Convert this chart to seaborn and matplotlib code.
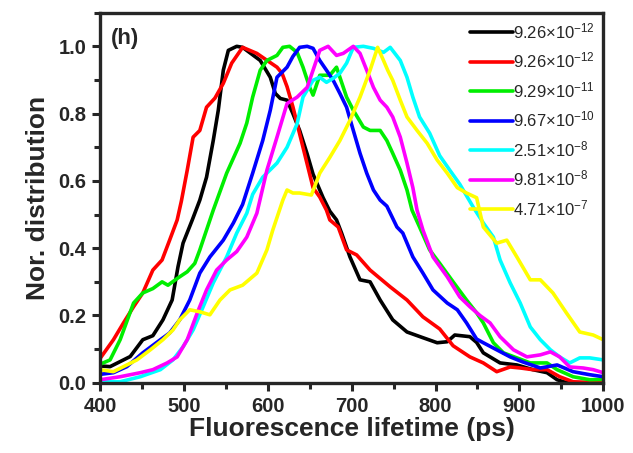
import pandas as pd
import numpy as np
import matplotlib
matplotlib.use('Agg')
import matplotlib.pyplot as plt
import seaborn as sns
from matplotlib.ticker import MultipleLocator

# ---- data ----
labels = ['9.26$\\times$10$^{-12}$', '9.26$\\times$10$^{-12}$', '9.29$\\times$10$^{-11}$',
          '9.67$\\times$10$^{-10}$', '2.51$\\times$10$^{-8}$', '9.81$\\times$10$^{-8}$',
          '4.71$\\times$10$^{-7}$']
colors = ['#000000', '#FF0000', '#00EE00', '#0000FF', '#00FFFF', '#FF00FF', '#FFFF00']

x_black = [400, 412, 436, 451, 463, 475, 486, 493, 499, 510, 519, 527, 535, 541, 547, 553, 563, 570,
           591, 603, 609, 615, 623, 630, 638, 647, 654, 666, 674, 682, 688, 698, 710, 722, 734, 749,
           766, 785, 802, 814, 823, 841, 849, 857, 877, 897, 916, 933, 945, 957, 1000]
y_black = [0.05, 0.048, 0.078, 0.128, 0.14, 0.187, 0.246, 0.345, 0.415, 0.484, 0.543, 0.611, 0.72,
           0.81, 0.929, 0.988, 1.0, 0.997, 0.958, 0.908, 0.86, 0.845, 0.84, 0.80, 0.75, 0.68, 0.62,
           0.55, 0.51, 0.484, 0.445, 0.374, 0.306, 0.30, 0.246, 0.187, 0.151, 0.134, 0.119, 0.122,
           0.142, 0.137, 0.12, 0.089, 0.059, 0.053, 0.039, 0.03, 0.009, 0.0, 0.0]

x_red = [400, 416, 428, 440, 451, 463, 474, 483, 492, 497, 504, 511, 519, 527, 537, 547, 557, 570,
         587, 594, 611, 617, 623, 630, 638, 647, 654, 662, 670, 674, 684, 694, 706, 722, 746, 766,
         785, 805, 821, 841, 857, 873, 889, 901, 916, 933, 948, 964, 1000]
y_red = [0.072, 0.128, 0.178, 0.226, 0.267, 0.335, 0.365, 0.424, 0.484, 0.54, 0.632, 0.73, 0.75,
         0.819, 0.846, 0.89, 0.95, 0.997, 0.979, 0.967, 0.938, 0.92, 0.88, 0.82, 0.74, 0.65, 0.58,
         0.552, 0.513, 0.484, 0.463, 0.395, 0.38, 0.335, 0.285, 0.246, 0.196, 0.16, 0.11, 0.077,
         0.059, 0.033, 0.047, 0.044, 0.039, 0.039, 0.018, 0.003, 0.0]

x_green = [400, 412, 424, 440, 451, 463, 474, 481, 492, 504, 513, 519, 527, 535, 551, 567, 575, 582,
           591, 599, 611, 618, 626, 635, 642, 650, 654, 662, 674, 682, 686, 694, 702, 714, 722, 734,
           742, 749, 758, 766, 772, 781, 793, 805, 821, 837, 849, 857, 869, 881, 897, 913, 933, 945,
           964, 984, 1000]
y_green = [0.055, 0.068, 0.128, 0.237, 0.267, 0.28, 0.30, 0.29, 0.31, 0.33, 0.355, 0.395, 0.454,
           0.513, 0.623, 0.712, 0.772, 0.849, 0.929, 0.958, 0.973, 0.997, 1.0, 0.982, 0.938, 0.878,
           0.855, 0.914, 0.914, 0.938, 0.908, 0.849, 0.81, 0.76, 0.75, 0.75, 0.72, 0.682, 0.632,
           0.573, 0.513, 0.463, 0.395, 0.355, 0.30, 0.246, 0.208, 0.178, 0.119, 0.089, 0.074, 0.059,
           0.059, 0.039, 0.018, 0.009, 0.01]

x_blue = [400, 416, 432, 451, 472, 483, 495, 507, 519, 531, 547, 559, 570, 582, 594, 603, 611, 623,
          630, 638, 647, 654, 662, 670, 678, 686, 694, 702, 710, 718, 726, 734, 742, 754, 761, 773,
          785, 797, 814, 826, 837, 849, 857, 873, 889, 904, 925, 945, 964, 984, 1000]
y_blue = [0.025, 0.03, 0.048, 0.089, 0.128, 0.148, 0.187, 0.246, 0.326, 0.374, 0.424, 0.475, 0.53,
          0.623, 0.72, 0.81, 0.908, 0.938, 0.97, 0.997, 1.0, 0.994, 0.958, 0.929, 0.899, 0.86, 0.819,
          0.75, 0.682, 0.623, 0.573, 0.543, 0.525, 0.463, 0.445, 0.374, 0.326, 0.276, 0.237, 0.217,
          0.178, 0.13, 0.119, 0.098, 0.077, 0.062, 0.044, 0.053, 0.033, 0.024, 0.018]

x_cyan = [400, 424, 448, 472, 487, 499, 511, 523, 535, 551, 563, 575, 582, 594, 611, 623, 635, 642,
          654, 662, 670, 678, 686, 694, 702, 714, 726, 738, 746, 758, 766, 773, 781, 793, 805, 817,
          829, 845, 857, 869, 877, 889, 901, 913, 925, 937, 948, 960, 972, 984, 1000]
y_cyan = [0.003, 0.003, 0.018, 0.039, 0.068, 0.107, 0.157, 0.226, 0.297, 0.374, 0.445, 0.504, 0.56,
          0.611, 0.653, 0.70, 0.77, 0.849, 0.899, 0.908, 0.893, 0.905, 0.92, 0.95, 0.997, 1.0, 0.994,
          0.982, 0.997, 0.958, 0.908, 0.849, 0.79, 0.742, 0.675, 0.632, 0.59, 0.522, 0.475, 0.433,
          0.365, 0.297, 0.237, 0.166, 0.128, 0.098, 0.077, 0.059, 0.074, 0.074, 0.068]

x_magenta = [400, 424, 448, 463, 480, 492, 504, 516, 527, 539, 551, 563, 575, 587, 599, 611, 623,
             635, 647, 654, 662, 672, 682, 690, 702, 710, 718, 726, 734, 742, 749, 758, 766, 773, 778,
             785, 797, 814, 829, 841, 853, 865, 877, 893, 909, 925, 937, 948, 960, 976, 988, 1000]
y_magenta = [0.009, 0.018, 0.03, 0.039, 0.059, 0.077, 0.128, 0.208, 0.276, 0.335, 0.365, 0.39,
             0.433, 0.504, 0.632, 0.73, 0.83, 0.849, 0.878, 0.929, 0.988, 1.0, 0.973, 0.979, 1.0,
             0.979, 0.929, 0.878, 0.84, 0.819, 0.79, 0.73, 0.653, 0.58, 0.513, 0.454, 0.374, 0.315,
             0.255, 0.226, 0.2, 0.178, 0.137, 0.098, 0.077, 0.083, 0.092, 0.077, 0.047, 0.044, 0.039,
             0.03]

x_yellow = [400, 416, 428, 444, 460, 475, 487, 495, 507, 519, 531, 543, 555, 570, 587, 599, 606,
            618, 623, 630, 638, 652, 662, 674, 686, 698, 710, 722, 731, 738, 743, 749, 758, 766, 778,
            790, 802, 814, 826, 837, 849, 857, 873, 885, 897, 913, 925, 940, 956, 972, 988, 1000]
y_yellow = [0.039, 0.033, 0.048, 0.068, 0.098, 0.128, 0.157, 0.187, 0.217, 0.211, 0.202, 0.246,
            0.276, 0.29, 0.326, 0.395, 0.454, 0.543, 0.573, 0.564, 0.564, 0.558, 0.623, 0.67, 0.72,
            0.78, 0.849, 0.929, 0.997, 0.958, 0.929, 0.899, 0.84, 0.79, 0.75, 0.712, 0.662, 0.623,
            0.58, 0.564, 0.55, 0.463, 0.415, 0.424, 0.374, 0.306, 0.306, 0.267, 0.208, 0.151, 0.142,
            0.128]

xs = [x_black, x_red, x_green, x_blue, x_cyan, x_magenta, x_yellow]
ys = [y_black, y_red, y_green, y_blue, y_cyan, y_magenta, y_yellow]

# long table for seaborn
frames = []
for i, (xx, yy) in enumerate(zip(xs, ys)):
    frames.append(pd.DataFrame({'t': xx, 'n': yy, 'series': f's{i}'}))
df = pd.concat(frames, ignore_index=True)
order = [f's{i}' for i in range(len(xs))]

#### style ####
sns.set_style('ticks')
plt.rcParams['font.family'] = ['Liberation Sans', 'DejaVu Sans']
plt.rcParams['mathtext.fontset'] = 'custom'
plt.rcParams['mathtext.rm'] = 'Liberation Sans'
plt.rcParams['mathtext.it'] = 'Liberation Sans:italic'
plt.rcParams['mathtext.bf'] = 'Liberation Sans:bold'

fig = plt.figure(figsize=(6.33, 4.53), dpi=100)
ax = fig.add_axes([0.158, 0.155, 0.795, 0.817])

sns.lineplot(data=df, x='t', y='n', hue='series', hue_order=order, palette=colors,
             estimator=None, sort=False, linewidth=2.6, ax=ax, legend=False)

ax.set_xlim(400, 1000)
ax.set_ylim(0, 1.1)
ax.xaxis.set_major_locator(MultipleLocator(100))
ax.xaxis.set_minor_locator(MultipleLocator(50))
ax.yaxis.set_major_locator(MultipleLocator(0.2))
ax.yaxis.set_minor_locator(MultipleLocator(0.1))
ax.yaxis.set_major_formatter(matplotlib.ticker.FormatStrFormatter('%.1f'))
ax.tick_params(which='major', direction='out', length=6, width=2.2, labelsize=14.5, pad=4)
ax.tick_params(which='minor', direction='out', length=4, width=2.2)
for lab in ax.get_xticklabels() + ax.get_yticklabels():
    lab.set_fontweight('bold')
for sp in ax.spines.values():
    sp.set_linewidth(2.4)
    sp.set_visible(True)

ax.set_xlabel('Fluorescence lifetime (ps)', fontsize=19, fontweight='bold', labelpad=1)
ax.set_ylabel('Nor. distribution', fontsize=19, fontweight='bold', labelpad=6)
ax.text(0.022, 0.93, '(h)', transform=ax.transAxes, fontsize=16, fontweight='bold',
        va='center', ha='left')

handles = ax.get_lines()[:len(labels)]
leg = ax.legend(handles, labels, loc='upper right', frameon=False, fontsize=12,
                handlelength=2.6, handletextpad=0.0, labelspacing=0.58,
                borderaxespad=0.1, bbox_to_anchor=(1.0, 1.0))

plt.savefig('out.png', dpi=100)
